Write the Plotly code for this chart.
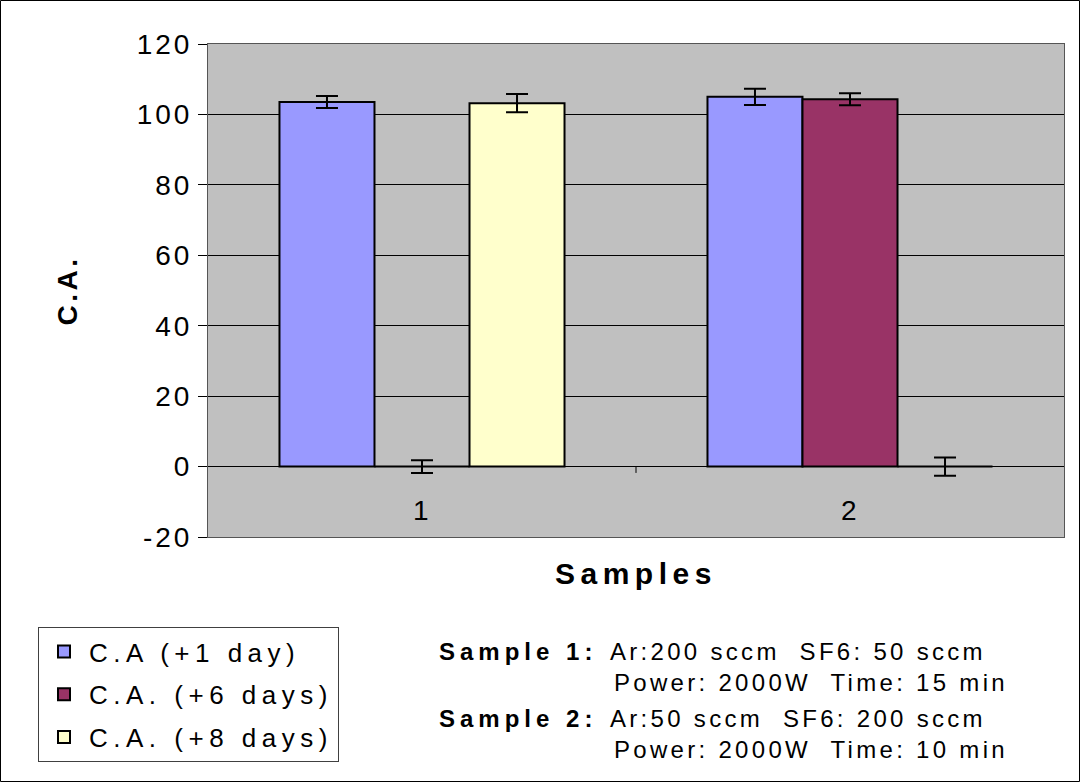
import plotly.graph_objects as go

# Contact angle measurements per sample and ageing time
samples = ["1", "2"]
series_names = ["C.A (+1 day)", "C.A. (+6 days)", "C.A. (+8 days)"]
ca_day1 = [103.5, 105.0]
ca_day6 = [0.0, 104.3]
ca_day8 = [103.2, 0.0]
err_day1 = [1.7, 2.3]
err_day6 = [1.8, 1.7]
err_day8 = [2.6, 2.6]
colors = ["#9999FF", "#993366", "#FFFFCC"]

y_ticks = [-20, 0, 20, 40, 60, 80, 100, 120]

FONT = "Liberation Sans, Arial, sans-serif"

# plot-area box in pixels (figure is 1080 x 782)
W, H = 1080, 782
L, R, T, B = 208, 1064, 44, 537


def px(x):
    return (x - L) / (R - L)


def py(y):
    return (B - y) / (B - T)


def spaced(text, ls):
    return f'<span style="letter-spacing:{ls}px">{text}</span>'


fig = go.Figure()
for i, (name, vals, errs) in enumerate(zip(series_names,
                                           [ca_day1, ca_day6, ca_day8],
                                           [err_day1, err_day6, err_day8])):
    fig.add_trace(go.Bar(
        x=samples, y=vals, name=spaced(name, 5.5), legendgroup=name,
        marker=dict(color=colors[i], line=dict(color="black", width=2)),
        error_y=dict(type="data", array=errs, visible=True,
                     color="black", thickness=2, width=11),
    ))

# category labels sit just under the zero line, inside the plot area
for idx, s in enumerate(samples):
    fig.add_annotation(x=idx, y=-12.6, xref="x", yref="y", text=spaced(s, 3),
                       showarrow=False, font=dict(size=28, color="black", family=FONT))

# tick mark on the zero line between the two categories
fig.add_shape(type="line", xref="x", yref="y", x0=0.5, x1=0.5, y0=0, y1=-1.8,
              line=dict(color="black", width=1))

# outer frame of the chart
fig.add_shape(type="rect", xref="paper", yref="paper",
              x0=px(0.5), x1=px(W - 0.5), y0=py(H - 0.5), y1=py(0.5),
              line=dict(color="black", width=1), layer="below")

# process conditions
cond = [
    ("Sample 1:", "Ar:200 sccm  SF6: 50 sccm", 651),
    ("", "Power: 2000W  Time: 15 min", 682),
    ("Sample 2:", "Ar:50 sccm  SF6: 200 sccm", 718),
    ("", "Power: 2000W  Time: 10 min", 749),
]
for label, txt, ypx in cond:
    if label:
        fig.add_annotation(x=px(437), y=py(ypx), xref="paper", yref="paper",
                           xanchor="left", yanchor="middle",
                           text="<b>" + spaced(label, 5) + "</b>", showarrow=False,
                           font=dict(size=24, color="black", family=FONT))
    x0 = 608 if label else 612
    fig.add_annotation(x=px(x0), y=py(ypx), xref="paper", yref="paper",
                       xanchor="left", yanchor="middle", text=spaced(txt, 3.3), showarrow=False,
                       font=dict(size=24, color="black", family=FONT))

fig.add_annotation(x=px(636), y=py(592), xref="paper", yref="paper",
                   text="<b>" + spaced("Samples", 5.5) + "</b>", showarrow=False,
                   font=dict(size=30, color="black", family=FONT))

fig.update_layout(
    width=W, height=H,
    margin=dict(l=L, r=W - R, t=T, b=H - B),
    paper_bgcolor="white", plot_bgcolor="#C0C0C0",
    barmode="group", bargap=0.334, bargroupgap=0,
    font=dict(family=FONT, size=24, color="black"),
    showlegend=True,
    legend=dict(x=px(38), y=py(627), xanchor="left", yanchor="top",
                xref="paper", yref="paper", traceorder="grouped", tracegroupgap=6,
                itemwidth=40,
                bordercolor="#404040", borderwidth=1, bgcolor="white",
                font=dict(size=26, family=FONT, color="black")),
    xaxis=dict(type="category", range=[-0.5, 1.5], showticklabels=False,
               showgrid=False, ticks="",
               showline=True, linecolor="#555555", linewidth=1, mirror=True,
               zeroline=False),
    yaxis=dict(range=[-20, 120], tickvals=y_ticks,
               ticktext=[spaced(str(v), 3) for v in y_ticks],
               ticks="outside", ticklen=9,
               tickcolor="black", showgrid=True, gridcolor="black", gridwidth=1,
               zeroline=True, zerolinecolor="black", zerolinewidth=1,
               showline=True, linecolor="#555555", linewidth=1, mirror=True,
               tickfont=dict(size=28, family=FONT),
               title=dict(text="<b>" + spaced("C.A.", 3.5) + "</b>",
                          font=dict(size=28, family=FONT), standoff=50)),
)

fig.write_html("out.html")
